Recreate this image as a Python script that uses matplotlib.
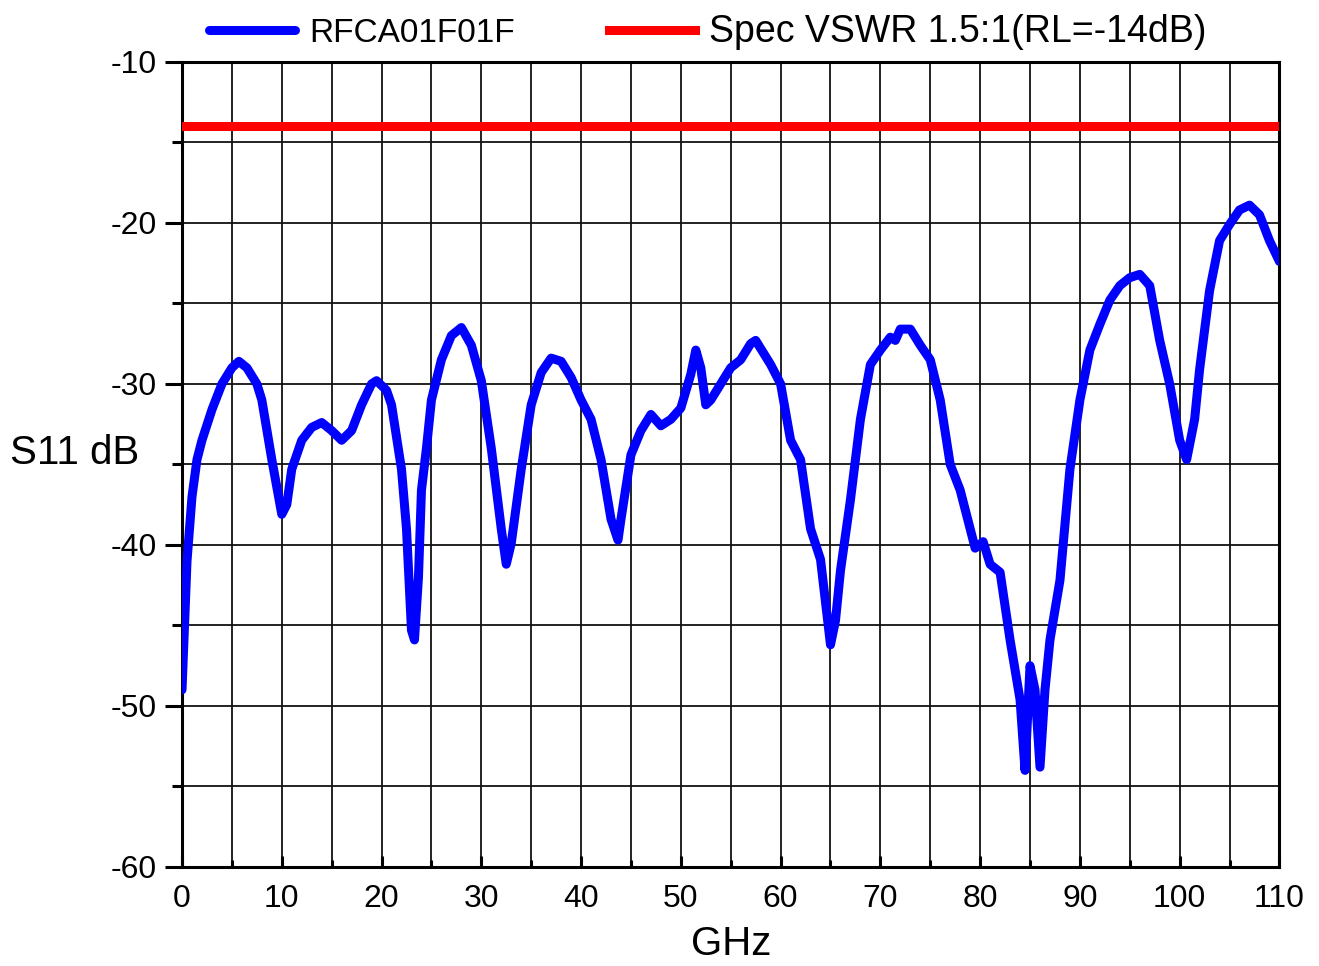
import numpy as np
import matplotlib
matplotlib.use("Agg")
import matplotlib.pyplot as plt
from matplotlib.ticker import MultipleLocator

plt.rcParams['font.family'] = ['Liberation Sans', 'DejaVu Sans']
plt.rcParams['axes.unicode_minus'] = False

# S11 trace (GHz, dB)
freq_ghz = [0, 0.5, 1, 1.5, 2, 3, 4, 5, 5.7, 6.5, 7.5, 8, 9, 10, 10.5, 11, 12, 13, 14,
            15, 16, 17, 18, 19, 19.5, 20.5, 21, 22, 22.5, 23, 23.3, 23.7, 24, 24.5, 25,
            26, 27, 28, 29, 30, 31, 32, 32.5, 33, 34, 35, 36, 37, 38, 39, 40, 41, 42,
            43, 43.7, 44, 45, 46, 47, 48, 49, 50, 51, 51.5, 52, 52.5, 53, 54, 55, 56,
            57, 57.5, 58, 59, 60, 61, 62, 63, 64, 65, 65.5, 66, 67, 68, 69, 70, 71,
            71.5, 72, 73, 74, 75, 76, 77, 78, 79, 79.5, 80.3, 81, 82, 83, 84, 84.5,
            85, 85.5, 86, 86.5, 87, 88, 89, 90, 91, 92, 93, 94, 95, 96, 97, 98, 99,
            100, 100.7, 101.5, 102, 103, 104, 105, 106, 107, 108, 109, 110]
s11_db = [-49, -41, -37, -34.7, -33.5, -31.6, -30, -29, -28.6, -29, -30, -31, -34.7,
          -38.1, -37.5, -35.3, -33.5, -32.7, -32.4, -32.9, -33.5, -32.9, -31.3, -30,
          -29.8, -30.4, -31.3, -35.3, -39, -45.3, -45.9, -42, -36.6, -34, -31, -28.5,
          -27, -26.5, -27.6, -29.8, -34, -39, -41.2, -39.9, -35.3, -31.3, -29.3, -28.4,
          -28.6, -29.6, -31, -32.2, -34.7, -38.4, -39.7, -38.4, -34.4, -32.9, -31.9,
          -32.6, -32.2, -31.5, -29.4, -27.9, -29, -31.3, -31, -30, -29, -28.5, -27.5,
          -27.3, -27.8, -28.8, -30, -33.5, -34.7, -39, -40.9, -46.2, -44.7, -41.6,
          -37.2, -32.2, -28.8, -27.9, -27.1, -27.3, -26.6, -26.6, -27.6, -28.5, -31,
          -35, -36.6, -39, -40.2, -39.8, -41.2, -41.7, -45.9, -49.6, -54, -47.5, -49,
          -53.8, -49, -45.9, -42.2, -35.3, -31, -27.9, -26.3, -24.8, -23.9, -23.4,
          -23.2, -23.9, -27.3, -30, -33.5, -34.7, -32.2, -29.1, -24.2, -21.1, -20.1,
          -19.2, -18.9, -19.5, -21.1, -22.4]
spec_db = -14
series_name = "RFCA01F01F"
spec_name = "Spec VSWR 1.5:1(RL=-14dB)"

fig = plt.figure(figsize=(13.19, 9.66), dpi=100)
ax = fig.add_axes([0.138, 0.1025, 0.832, 0.8335])

ax.plot(freq_ghz, s11_db, color='#0000ff', lw=6.5, solid_joinstyle='round',
        solid_capstyle='round', label=series_name, zorder=3)
ax.axhline(spec_db, color='#ff0000', lw=6.5, label=spec_name, zorder=3)

ax.set_xlim(0, 110)
ax.set_ylim(-60, -10)
ax.xaxis.set_major_locator(MultipleLocator(10))
ax.xaxis.set_minor_locator(MultipleLocator(5))
ax.yaxis.set_major_locator(MultipleLocator(10))
ax.yaxis.set_minor_locator(MultipleLocator(5))
ax.grid(True, which='both', color='#111111', lw=1.3)
ax.set_axisbelow(True)

ax.tick_params(axis='y', which='major', direction='out', length=12, width=2.2,
               labelsize=23, pad=6)
ax.tick_params(axis='y', which='minor', direction='out', length=7, width=2.2)
ax.tick_params(axis='x', which='major', direction='in', length=8, width=2.2,
               labelsize=23, pad=12)
ax.tick_params(axis='x', which='minor', direction='in', length=5, width=2.2)
for s in ax.spines.values():
    s.set_linewidth(2.2)

ax.set_xlabel("GHz", fontsize=29, labelpad=8)
ax.set_ylabel("S11 dB", fontsize=29, rotation=0, labelpad=0)
ax.yaxis.set_label_coords(-0.0975, 0.491)

leg = ax.legend(loc='lower center', bbox_to_anchor=(0.479, 0.997), ncol=2,
                frameon=False, fontsize=25, handlelength=2.5, columnspacing=2.7,
                handletextpad=0.4, borderaxespad=0)
leg.get_texts()[0].set_fontsize(24)
leg.get_texts()[1].set_fontsize(27)

fig.savefig("out.png", dpi=100)
